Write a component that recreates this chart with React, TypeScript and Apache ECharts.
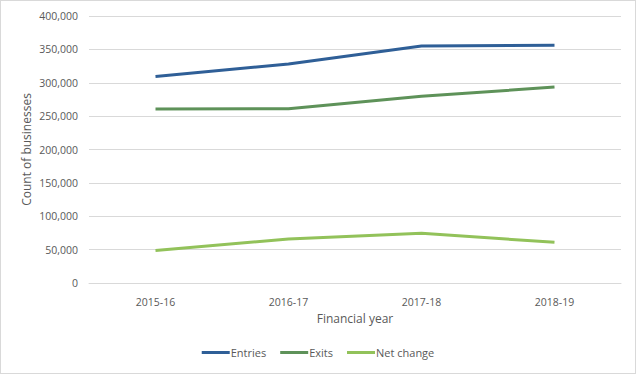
import React, { useEffect, useRef } from "react";
import * as echarts from "echarts";

const categories = ["2015-16", "2016-17", "2017-18", "2018-19"];
const entries = [309500, 328000, 355000, 356000];
const exits = [260800, 261000, 279600, 293500];
const netChange = [48800, 66000, 74500, 61000];
const yTicks = { min: 0, max: 400000, interval: 50000 };

export default function App() {
  const ref = useRef<HTMLDivElement>(null);
  useEffect(() => {
    document.body.style.margin = "0";
    const chart = echarts.init(ref.current!, null, { renderer: "svg" });
    const font = "'Open Sans', 'Liberation Sans', sans-serif";
    const mk = (name: string, data: number[], color: string) => ({
      name,
      type: "line",
      data,
      symbol: "none",
      lineStyle: { color, width: 3 },
      itemStyle: { color },
    });
    chart.setOption({
      animation: false,
      textStyle: { fontFamily: font },
      grid: { left: 88, right: 14, top: 15, bottom: 90 },
      xAxis: {
        type: "category",
        data: categories,
        boundaryGap: true,
        name: "Financial year",
        nameLocation: "middle",
        nameGap: 29,
        nameMoveOverlap: false,
        nameTextStyle: { color: "#595959", fontSize: 12, fontFamily: font },
        axisLine: { show: true, lineStyle: { color: "#D9D9D9", width: 1 } },
        axisTick: { show: false },
        axisLabel: { color: "#595959", fontSize: 10.5, margin: 13, fontFamily: font },
      },
      yAxis: {
        type: "value",
        min: yTicks.min,
        max: yTicks.max,
        interval: yTicks.interval,
        name: "Count of businesses",
        nameLocation: "middle",
        nameGap: 57,
        nameMoveOverlap: false,
        nameTextStyle: { color: "#595959", fontSize: 12, fontFamily: font },
        axisLine: { show: false },
        axisTick: { show: false },
        splitLine: { lineStyle: { color: "#D9D9D9", width: 1 } },
        axisLabel: {
          color: "#595959",
          fontSize: 10.5,
          margin: 11,
          fontFamily: font,
          formatter: (v: number) => v.toLocaleString("en-US"),
        },
      },
      legend: {
        bottom: 10,
        left: "center",
        itemWidth: 28,
        itemHeight: 3,
        itemGap: 14,
        icon: "rect",
        textStyle: { color: "#595959", fontSize: 11, fontFamily: font, padding: [0, 0, 0, -4] },
        data: ["Entries", "Exits", "Net change"],
      },
      series: [
        mk("Entries", entries, "#2F5F97"),
        mk("Exits", exits, "#5E9259"),
        mk("Net change", netChange, "#92C25A"),
      ],
    });
    return () => chart.dispose();
  }, []);
  return (
    <div
      ref={ref}
      style={{
        width: 636,
        height: 374,
        boxSizing: "border-box",
        border: "1px solid #D9D9D9",
        background: "#fff",
      }}
    />
  );
}
